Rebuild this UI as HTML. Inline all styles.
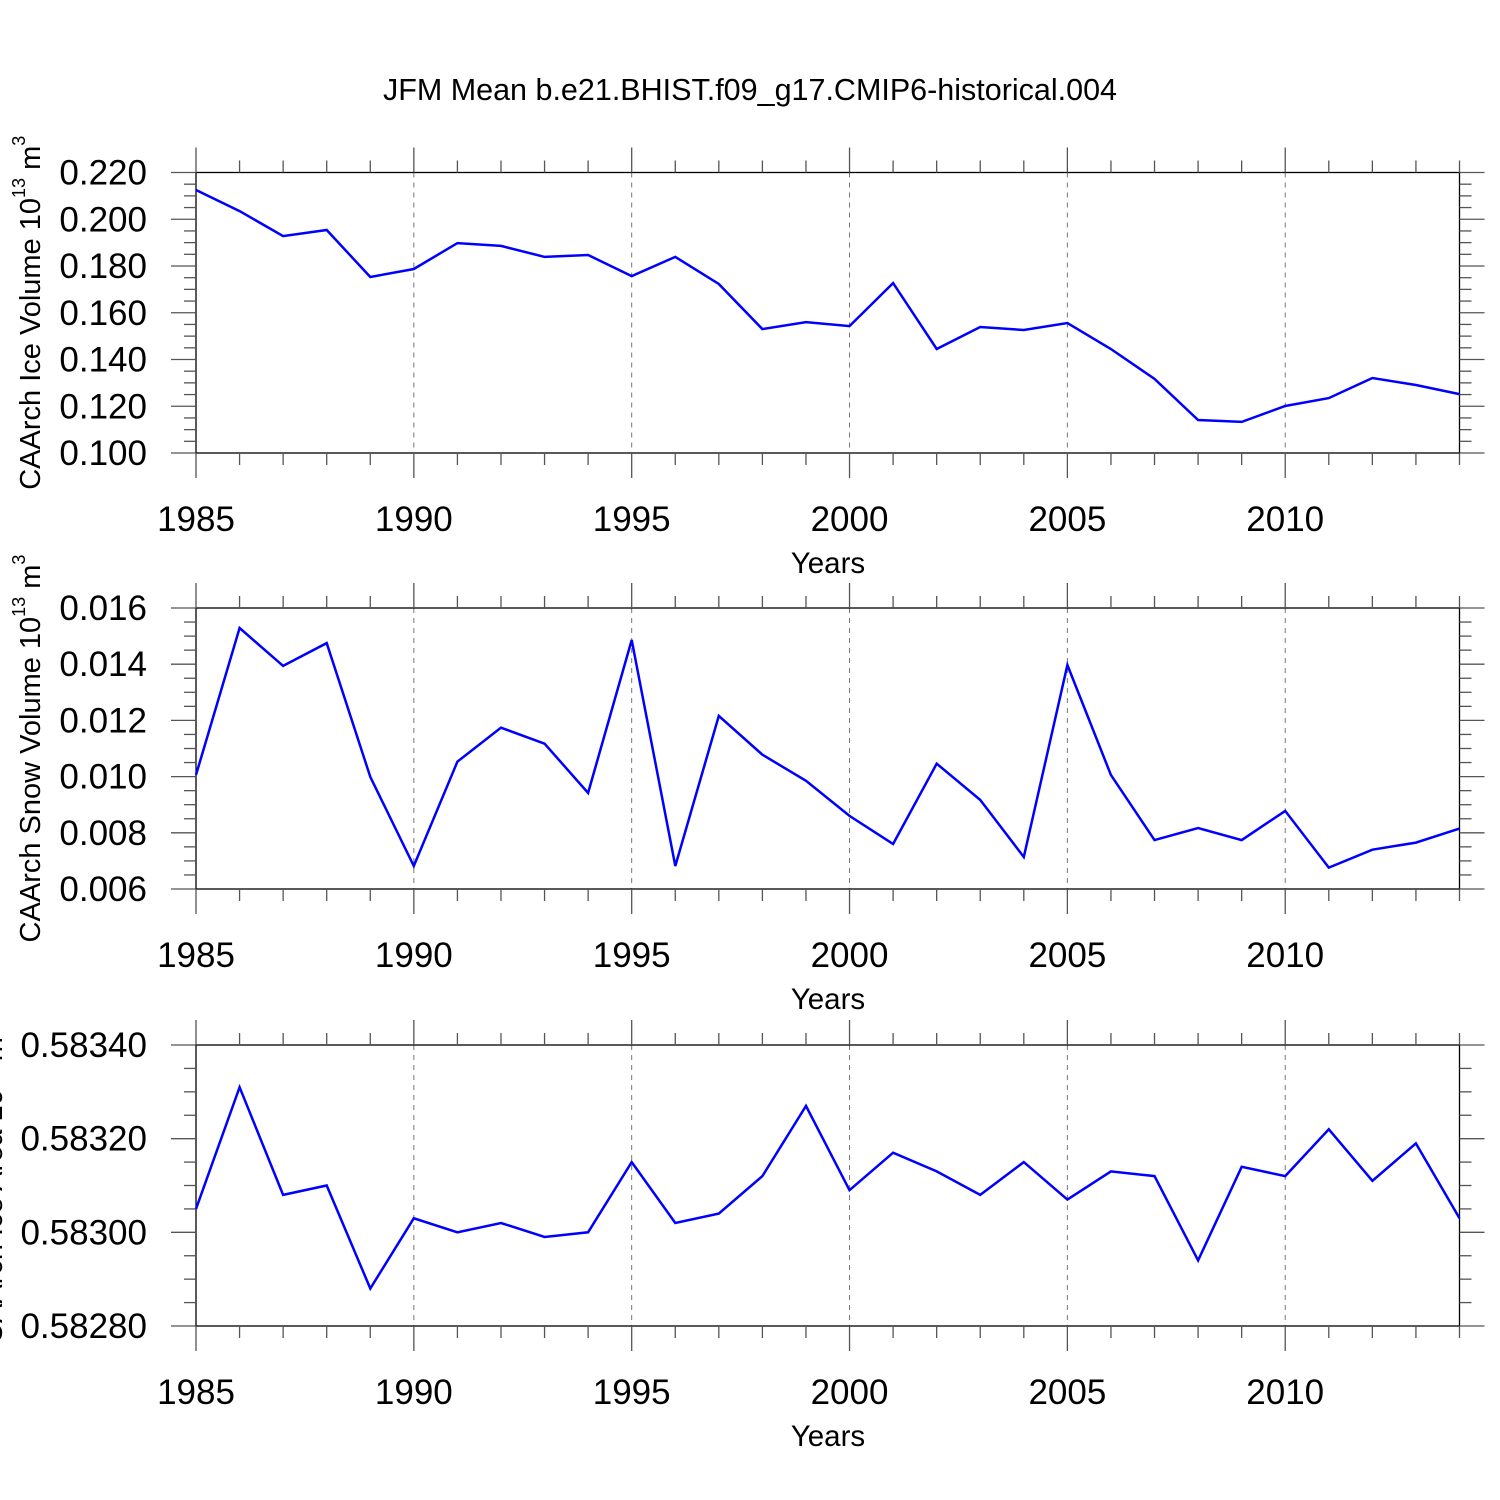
<!DOCTYPE html>
<html><head><meta charset="utf-8"><style>
html,body{margin:0;padding:0;background:#fff}
svg{display:block;font-family:"Liberation Sans",Arial,sans-serif}
</style></head><body>
<svg id="chart" width="1500" height="1500" xmlns="http://www.w3.org/2000/svg">
<rect width="1500" height="1500" fill="#fff"/>
<text x="750" y="100" font-size="30.5" text-anchor="middle">JFM Mean b.e21.BHIST.f09_g17.CMIP6-historical.004</text>
</svg>
<script>
const years = [1985,1986,1987,1988,1989,1990,1991,1992,1993,1994,1995,1996,1997,1998,1999,2000,2001,2002,2003,2004,2005,2006,2007,2008,2009,2010,2011,2012,2013,2014];
const iceVolume = [0.2125,0.2035,0.1928,0.1954,0.1753,0.1787,0.1898,0.1886,0.1839,0.1847,0.1757,0.1839,0.1723,0.1530,0.1560,0.1543,0.1727,0.1445,0.1539,0.1526,0.1556,0.1445,0.1317,0.1141,0.1133,0.1201,0.1235,0.1321,0.1291,0.1252];
const snowVolume = [0.01006,0.01529,0.01394,0.01475,0.00999,0.00682,0.01053,0.01174,0.01117,0.00942,0.01486,0.00682,0.01216,0.01078,0.00985,0.00860,0.00760,0.01046,0.00917,0.00714,0.01397,0.01006,0.00774,0.00817,0.00774,0.00878,0.00676,0.00740,0.00765,0.00815];
const iceArea = [0.58305,0.58331,0.58308,0.58310,0.58288,0.58303,0.58300,0.58302,0.58299,0.58300,0.58315,0.58302,0.58304,0.58312,0.58327,0.58309,0.58317,0.58313,0.58308,0.58315,0.58307,0.58313,0.58312,0.58294,0.58314,0.58312,0.58322,0.58311,0.58319,0.58303];
const xTickLabels = [1985,1990,1995,2000,2005,2010];
const iceVolTicks = [0.100,0.120,0.140,0.160,0.180,0.200,0.220];
const snowTicks = [0.006,0.008,0.010,0.012,0.014,0.016];
const areaTicks = [0.58280,0.58300,0.58320,0.58340];

const NS="http://www.w3.org/2000/svg";
const svg=document.getElementById('chart');
function mk(tag,attrs,parent){const e=document.createElementNS(NS,tag);for(const k in attrs)e.setAttribute(k,attrs[k]);(parent||svg).appendChild(e);return e;}
const X0=196,X1=1459.5;
function xs(y){return X0+(y-1985)/(2014-1985)*(X1-X0);}

const panels=[
 {key:'ice-volume',top:172.5,bot:453,vals:iceVolume,ticks:iceVolTicks,dec:3,minor:0.005,lab:'CAArch Ice Volume 10',sup:'13',unit:' m',usup:'3',lx:32},
 {key:'snow-volume',top:608,bot:889,vals:snowVolume,ticks:snowTicks,dec:3,minor:0.0005,lab:'CAArch Snow Volume 10',sup:'13',unit:' m',usup:'3',lx:32},
 {key:'ice-area',top:1045,bot:1326,vals:iceArea,ticks:areaTicks,dec:5,minor:0.00005,lab:'CAArch Ice Area 10',sup:'13',unit:' m',usup:'2',lx:-6}
];
panels.forEach((p,pi)=>{
 const g=mk('g',{});
 
 
 const lo=p.ticks[0],hi=p.ticks[p.ticks.length-1];
 const ys=v=>p.bot-(v-lo)/(hi-lo)*(p.bot-p.top);
 xTickLabels.slice(1).forEach(yr=>{
  const l=mk('line',{x1:xs(yr),x2:xs(yr),y1:p.top,y2:p.bot,stroke:'#777','stroke-width':1,'stroke-dasharray':'5,5'},g);
  
  
 });
 const b=mk('rect',{x:X0,y:p.top,width:X1-X0,height:p.bot-p.top,fill:'none',stroke:'#000','stroke-width':1.3},g);
 
 
 years.forEach(yr=>{
  const major=(yr%5===0);const L=major?25:12;const x=xs(yr);
  mk('line',{x1:x,x2:x,y1:p.top-L,y2:p.top,stroke:'#555','stroke-width':1.3},g);
  mk('line',{x1:x,x2:x,y1:p.bot,y2:p.bot+L,stroke:'#555','stroke-width':1.3},g);
 });
 xTickLabels.forEach(yr=>{
  const t=mk('text',{x:xs(yr),y:p.bot+78,'font-size':35,'text-anchor':'middle'},g);
  t.textContent=yr;
  
  
 });
 const nMinor=Math.round((hi-lo)/p.minor);
 for(let i=0;i<=nMinor;i++){
  const v=lo+i*p.minor;const y=ys(v);const major=(i%4===0);const L=major?25:12;
  mk('line',{x1:X0-L,x2:X0,y1:y,y2:y,stroke:'#555','stroke-width':1.3},g);
  mk('line',{x1:X1,x2:X1+L,y1:y,y2:y,stroke:'#555','stroke-width':1.3},g);
 }
 p.ticks.forEach(v=>{
  const t=mk('text',{x:147,y:ys(v)+12,'font-size':35,'text-anchor':'end'},g);
  t.textContent=v.toFixed(p.dec);
  
  
 });
 const pts=years.map((yr,i)=>xs(yr).toFixed(1)+','+ys(p.vals[i]).toFixed(1)).join(' ');
 const pl=mk('polyline',{points:pts,fill:'none',stroke:'#0000ff','stroke-width':2.5,'stroke-linejoin':'miter'},g);
 
 
 const xt=mk('text',{x:828,y:p.bot+120,'font-size':29.5,'text-anchor':'middle'},g);
 xt.textContent='Years';
 
 
 const cy=(p.top+p.bot)/2;
 const yt=mk('text',{x:p.lx,y:cy,'font-size':29,'text-anchor':'middle',transform:'rotate(-90 '+p.lx+' '+cy+')','dominant-baseline':'middle'},g);
 
 
 const a=document.createElementNS(NS,'tspan');a.textContent=p.lab;yt.appendChild(a);
 const s1=document.createElementNS(NS,'tspan');s1.setAttribute('font-size','18');s1.setAttribute('dy','-12');s1.textContent=p.sup;yt.appendChild(s1);
 const u=document.createElementNS(NS,'tspan');u.setAttribute('dy','12');u.textContent=p.unit;yt.appendChild(u);
 const s2=document.createElementNS(NS,'tspan');s2.setAttribute('font-size','18');s2.setAttribute('dy','-12');s2.textContent=p.usup;yt.appendChild(s2);
});
</script>
</body></html>
